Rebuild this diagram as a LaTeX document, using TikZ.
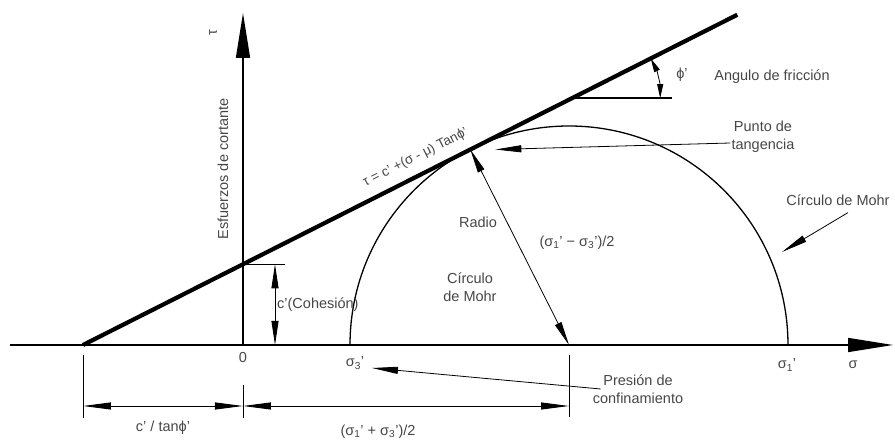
\documentclass[tikz,border=0pt]{standalone}
\usepackage{fontspec}
\setmainfont{Liberation Sans}
\usetikzlibrary{arrows.meta,calc}
\definecolor{inkgrey}{RGB}{70,70,70}

\begin{document}
\begin{tikzpicture}[x=1pt,y=1pt,
  font=\fontsize{14.5}{17.5}\selectfont,
  lbl/.style={text=inkgrey,inner sep=1pt,align=center},
  ax/.style={line width=1.5pt,-{Triangle[length=45pt,width=14pt]}},
  env/.style={line width=4.2pt},
  mohr/.style={line width=1.3pt},
  thn/.style={line width=0.8pt},
  ar/.style={line width=0.8pt,-{Triangle[length=26pt,width=7pt]}},
  dbl/.style={line width=0.8pt,{Triangle[length=24pt,width=7pt]}-{Triangle[length=24pt,width=7pt]}},
  ang/.style={line width=0.8pt,{Triangle[length=14pt,width=6pt]}-{Triangle[length=14pt,width=6pt]}},
  dim/.style={line width=0.9pt,{Triangle[length=28pt,width=7pt]}-{Triangle[length=28pt,width=7pt]}}]

\useasboundingbox (-243,-96) rectangle (652,345);
\def\fric{26.78}

\coordinate (O) at (0,0);
\coordinate (xl) at (-233,0);
\coordinate (xr) at (650,0);
\coordinate (yt) at (0,332);
\coordinate (A) at (-160,0);
\coordinate (B) at ($(A)+(\fric:733)$);
\coordinate (C) at (326,0);
\coordinate (s1) at (545,0);
\coordinate (T) at ($(C)+(90+\fric:219)$);
\coordinate (ct) at (0,{160*tan(\fric)});
\coordinate (F) at ($(A)+(\fric:548)$);

% ejes
\draw[ax] (xl) -- (xr);
\draw[ax] (O) -- (yt);
\node[lbl,rotate=90] (tau) at (-30,312) {τ};
\node[lbl,rotate=90] (yl) at (-20,176) {Esfuerzos de cortante};
\node[lbl] (sig) at (610,-20) {σ};
\node[lbl] (org) at (0,-13) {0};

% envolvente y circulo
\draw[env] (A) -- node[lbl,pos=0.52,sloped,above=8pt,font=\fontsize{13.5}{16}\selectfont] (eq)
  {τ = c' +(σ - μ) Tanϕ'} (B);
\draw[mohr] (s1) arc[start angle=0,end angle=180,radius=219];

\draw[line width=1.2pt] (F) -- ($(F)+(100,0)$);
\draw[ang] ($(F)+(\fric:88)$) arc[start angle=\fric,end angle=0,radius=88];
\node[lbl] (phl) at (439,270) {ϕ'};
\node[lbl] (afr) at (529,268) {Angulo de fricción};

\draw[thn] (ct) -- ++(42,0);
\draw[dbl] ($(O)+(32,0)$) -- ($(ct)+(32,0)$);
\node[lbl,anchor=west] (coh) at (33,40) {c'(Cohesión)};

\draw[dbl] (T) -- (C);
\node[lbl] (rad) at (235,123) {Radio};
\node[lbl] (rdif) at (334,102) {(σ\textsubscript{1}' − σ\textsubscript{3}')/2};
\node[lbl] (cm1) at (227,58) {Círculo\\de Mohr};

% llamadas
\node[lbl] (pt) at (520,208) {Punto de\\tangencia};
\coordinate (tp) at ($(T)+(25,0)$);
\draw[ar] ([yshift=-6pt]pt.west) -- (tp);

\node[lbl] (cm2) at (595,145) {Círculo de Mohr};
\coordinate (cmp) at (539,93);
\draw[ar] ([xshift=10pt,yshift=-6pt]cm2.south) -- (cmp);

\node[lbl] (s3l) at (112,-18) {σ\textsubscript{3}'};
\node[lbl] (s1l) at (544,-20) {σ\textsubscript{1}'};
\node[lbl] (pc) at (395,-44) {Presión de\\confinamiento};
\coordinate (pcp) at (129,-23);
\draw[ar] ([xshift=9pt]pc.west) -- (pcp);

% cotas
\draw[thn] ($(A)+(0,-10)$) -- ($(A)+(0,-73)$);
\draw[thn] ($(O)+(0,-40)$) -- ($(O)+(0,-73)$);
\draw[thn] ($(C)+(0,-10)$) -- ($(C)+(0,-72)$);
\draw[dim] ($(A)+(0,-61)$) -- ($(O)+(0,-61)$);
\draw[dim] ($(O)+(0,-61)$) -- ($(C)+(0,-61)$);
\node[lbl] (d1) at (-80,-83) {c' / tanϕ'};
\node[lbl] (d2) at (135,-87) {(σ\textsubscript{1}' + σ\textsubscript{3}')/2};
\end{tikzpicture}
\end{document}
